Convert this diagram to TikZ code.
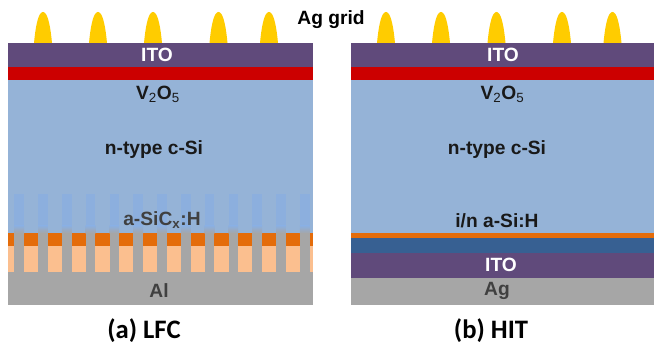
\documentclass[tikz,border=0pt]{standalone}
\usepackage{fontspec}
\setmainfont{Liberation Sans}
\newfontfamily\capfont{Carlito}
\usepackage{tikz}
\definecolor{ito}{HTML}{604A7B}
\definecolor{vox}{HTML}{CC0000}
\definecolor{csi}{HTML}{95B3D7}
\definecolor{hole}{HTML}{8CAFDE}
\definecolor{sic}{HTML}{E46C0A}
\definecolor{pale}{HTML}{FBBF8F}
\definecolor{metal}{HTML}{A6A6A6}
\definecolor{deep}{HTML}{376092}
\definecolor{grid}{HTML}{FFCC00}
\newcommand{\fingerat}[1]{\fill[grid] (#1-9,43) .. controls (#1-7,22) and (#1-4,12) .. (#1,12) .. controls (#1+4,12) and (#1+7,22) .. (#1+9,43) -- cycle;}
\newcommand{\subtxt}[1]{\textsubscript{\mdseries #1}}
\begin{document}
\begin{tikzpicture}[
  x=0.75pt, y=-0.75pt,
  lab/.style={font=\bfseries\fontsize{14.4}{16}\selectfont, text=black!90, inner sep=0pt},
  soft/.style={lab, text=black!75},
  wlab/.style={lab, text=white},
  captxt/.style={font=\capfont\bfseries\fontsize{20}{22}\selectfont, text=black, inner sep=0pt}]
\useasboundingbox (0,0) rectangle (654,345);
\fill[white] (0,0) rectangle (654,345);
\foreach \xc in {43,98,153,218.5,269,386,441,496.5,562,612.5}
  {\fingerat{\xc}}
\fill[ito] (8,43) rectangle (313,67);
\fill[vox] (8,67) rectangle (313,80.5);
\fill[csi] (8,80.5) rectangle (313,233.5);
\fill[sic] (8,233.5) rectangle (313,246);
\fill[pale] (8,246) rectangle (313,272);
\fill[metal] (8,272) rectangle (313,305);
\foreach \i in {0,...,12}{
  \pgfmathsetmacro{\xa}{14.3+23.8*\i}
  \fill[hole] (\xa,194.5) rectangle (\xa+9.7,226);
  \shade[top color=hole, bottom color=metal] (\xa,226) rectangle (\xa+9.7,233.6);
  \fill[metal] (\xa,233.5) rectangle (\xa+9.7,272.5);
}
\fill[ito] (351,43) rectangle (654,67);
\fill[vox] (351,67) rectangle (654,80.5);
\fill[csi] (351,80.5) rectangle (654,233.5);
\fill[sic] (351,233.5) rectangle (654,238);
\fill[deep] (351,238) rectangle (654,253);
\fill[ito] (351,253) rectangle (654,278);
\fill[metal] (351,278) rectangle (654,305);
\node[lab, text=black] (aggrid) at (331,20) {Ag grid};
\node[wlab] (itoa) at (157,55) {ITO};
\node[lab] (voxa) at (158,94) {V\subtxt{2}O\subtxt{5}};
\node[lab] (sia) at (154,150) {n-type c-Si};
\node[soft] (sica) at (162,220) {a-SiC\textsubscript{x}:H};
\node[soft] (ala) at (159,291) {Al};
\node[captxt] (capa) at (144,331) {(a) LFC};
\node[wlab] (itob) at (503,55) {ITO};
\node[lab] (voxb) at (502.5,94) {V\subtxt{2}O\subtxt{5}};
\node[lab] (sib) at (497,150) {n-type c-Si};
\node[lab] (inb) at (497,221) {i/n a-Si:H};
\node[wlab] (itoc) at (501,265) {ITO};
\node[soft] (agb) at (497,291) {Ag};
\node[captxt] (capb) at (491,331) {(b) HIT};
\end{tikzpicture}
\end{document}
